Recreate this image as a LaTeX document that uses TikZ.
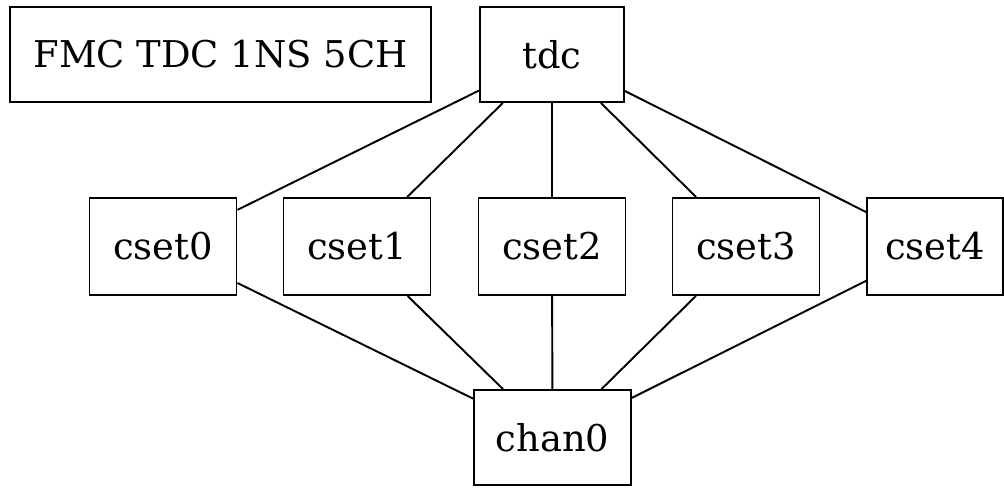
\documentclass[tikz,border=0pt]{standalone}
\usepackage{fontspec}
\setmainfont{DejaVu Serif}
\begin{document}
\begin{tikzpicture}[x=0.02cm,y=-0.02cm,
  box/.style={draw,line width=1.1pt,inner sep=0pt,font=\fontsize{21}{25}\selectfont,minimum height=1.9cm},
  csetbox/.style={box,minimum width=2.94cm,minimum height=1.94cm},
  edge/.style={line width=1.1pt}]
\useasboundingbox (0,0) rectangle (1004,487);
\node[box,minimum width=8.42cm] (fmc) at (220.5,54.5) {FMC TDC 1NS 5CH};
\node[box,minimum width=2.88cm] (tdc) at (552,54.5) {tdc};
\node[csetbox] (c0) at (163,246.5) {cset0};
\node[csetbox] (c1) at (357,246.5) {cset1};
\node[csetbox] (c2) at (552,246.5) {cset2};
\node[csetbox] (c3) at (746,246.5) {cset3};
\node[csetbox,minimum width=2.72cm] (c4) at (935,246.5) {cset4};
\node[box,minimum width=3.14cm] (ch) at (552.5,437.5) {chan0};
\foreach \c in {c0,c1,c2,c3,c4}{
  \draw[edge] (tdc) -- (\c);
  \draw[edge] (\c) -- (ch);
}
\end{tikzpicture}
\end{document}
